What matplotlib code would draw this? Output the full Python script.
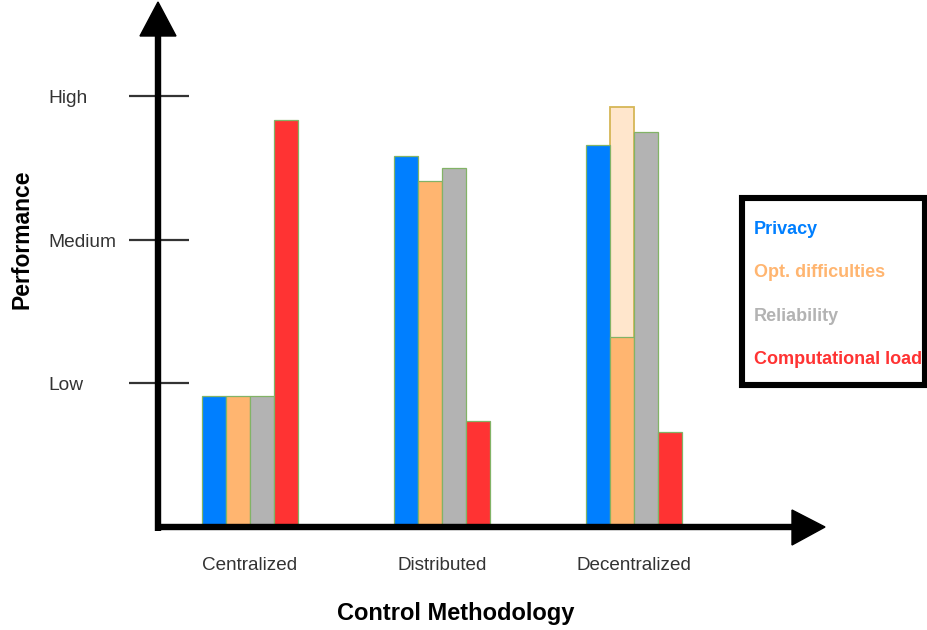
import numpy as np
import matplotlib.pyplot as plt
from matplotlib.patches import Rectangle

# chart data (performance on a Low=1 / Medium=2 / High=3 scale)
categories = ["Centralized", "Distributed", "Decentralized"]
series = ["Privacy", "Opt. difficulties", "Reliability", "Computational load"]
privacy = [0.91, 2.58, 2.66]
opt_difficulties = [0.91, 2.41, 1.32]
reliability = [0.91, 2.50, 2.75]
comp_load = [2.83, 0.74, 0.66]
opt_upper = [0, 0, 2.92]          # pale extension (uncertain range)
levels = [1, 2, 3]
level_labels = ["Low", "Medium", "High"]

colors = ["#007FFF", "#FFB570", "#B3B3B3", "#FF3333"]
edge = "#82B366"

plt.rcParams["font.family"] = ["Liberation Sans", "DejaVu Sans"]

W, H = 927, 630
fig = plt.figure(figsize=(W / 100, H / 100), dpi=100)
ax = fig.add_axes([0, 0, 1, 1])
ax.axis("off")

# scales chosen so the layout matches the picture
ax.set_xlim(-250 / 192, (W - 250) / 192)
ax.set_ylim((527 - H) / 143.7, 527 / 143.7)

def fx(px):
    return px / W

def fy(py):
    return 1 - py / H

x = np.arange(len(categories))
bw = 0.125
offsets = [-1.5, -0.5, 0.5, 1.5]
vals = [privacy, opt_difficulties, reliability, comp_load]

# pale upper part of the optimisation bar
ax.bar(x + offsets[1] * bw, opt_upper, bw, color="#FFE6CC",
       edgecolor="#D6B656", linewidth=1.3, zorder=2)
for i, v in enumerate(vals):
    ax.bar(x + offsets[i] * bw, v, bw, color=colors[i],
           edgecolor=edge, linewidth=0.9, zorder=3)

# axes with arrows
ax.plot([fx(158), fx(158)], [fy(531), fy(30)], color="black", lw=4.6,
        solid_capstyle="butt", transform=ax.transAxes, zorder=5)
ax.fill([fx(158), fx(140), fx(176)], [fy(2), fy(36), fy(36)],
        color="black", transform=ax.transAxes, zorder=5)
ax.plot([fx(155), fx(800)], [fy(527), fy(527)], color="black", lw=4.6,
        solid_capstyle="butt", transform=ax.transAxes, zorder=5)
ax.fill([fx(825), fx(792), fx(792)], [fy(527), fy(510), fy(545)],
        color="black", transform=ax.transAxes, zorder=5)

# level ticks and labels
ax.hlines(levels, fx(129), fx(189), color="#333333", lw=1.6,
          transform=ax.get_yaxis_transform(), zorder=4)
for lv, lab in zip(levels, level_labels):
    ypx = 527 - 143.7 * lv
    ax.text(fx(48), fy(ypx + 7), lab, fontsize=13.8, color="#333333",
            ha="left", va="baseline", transform=ax.transAxes)

# category labels
for xi, cat in zip(x, categories):
    ax.text(xi, fy(570), cat, fontsize=13.6, color="#333333", ha="center",
            va="baseline", transform=ax.get_xaxis_transform())

ax.text(fx(456), fy(620), "Control Methodology", fontsize=17,
        fontweight="bold", ha="center", va="baseline", transform=ax.transAxes)
ax.text(fx(22), fy(239), "Performance", fontsize=16.5, fontweight="bold",
        rotation=90, ha="center", va="center", transform=ax.transAxes)

# legend box
ax.add_patch(Rectangle((fx(742), fy(385)), fx(925) - fx(742), fy(198) - fy(385),
                       fill=False, edgecolor="black", lw=4.4,
                       transform=ax.transAxes, clip_on=False, zorder=6))
for name, c, base in zip(series, colors, [234, 277, 321, 364]):
    ax.text(fx(754), fy(base), name, fontsize=13, fontweight="bold",
            color=c, ha="left", va="baseline", transform=ax.transAxes)

fig.savefig("out.png", dpi=100)
